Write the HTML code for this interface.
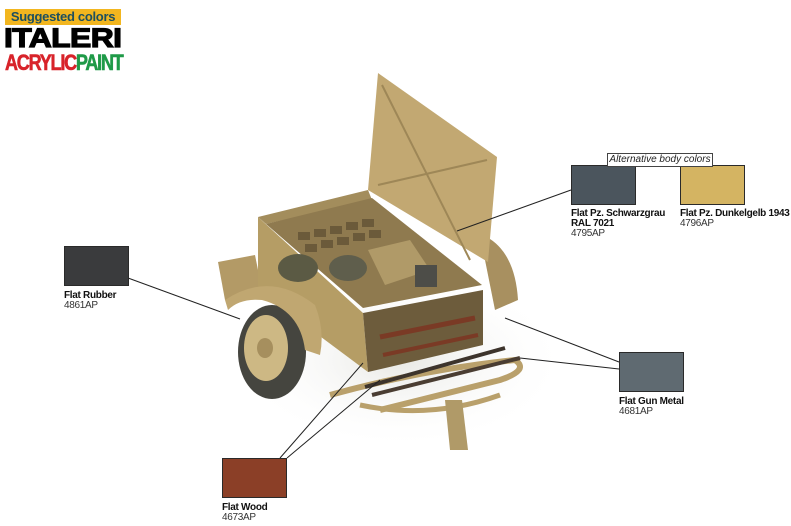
<!DOCTYPE html>
<html><head><meta charset="utf-8"><style>
body{margin:0;width:791px;height:526px;background:#fff;position:relative;overflow:hidden;font-family:"Liberation Sans",sans-serif}
.sw{position:absolute;border:1px solid #2a2a2a;box-sizing:border-box}
.lb{position:absolute;font-size:10px;line-height:10px;color:#111;white-space:nowrap;letter-spacing:-0.3px}
.lb b{font-weight:bold}
.lb span{color:#333}
</style></head><body>
<svg width="791" height="526" style="position:absolute;left:0;top:0">
<defs>
<radialGradient id="sh" cx="0.5" cy="0.5" r="0.5"><stop offset="0" stop-color="#e8e8e4"/><stop offset="1" stop-color="#fff" stop-opacity="0"/></radialGradient>
</defs>
<ellipse cx="400" cy="360" rx="170" ry="90" fill="url(#sh)"/>
<path d="M483 235 Q515 250 518 300 L495 310 L485 260Z" fill="#a89060"/>
<path d="M218 262 L255 255 L262 290 L225 300Z" fill="#b39a66"/>
<polygon points="258,217 363,313 368,372 258,290" fill="#b59d65"/>
<polygon points="258,217 368,190 372,200 266,224" fill="#a38d5c"/>
<polygon points="266,224 372,198 482,285 363,308" fill="#8f7a4f"/>
<g fill="#6b5a3a">
<rect x="298" y="232" width="12" height="8"/><rect x="314" y="229" width="12" height="8"/><rect x="330" y="226" width="12" height="8"/><rect x="346" y="222" width="12" height="8"/><rect x="362" y="219" width="12" height="8"/>
<rect x="305" y="244" width="12" height="8"/><rect x="321" y="240" width="12" height="8"/><rect x="337" y="237" width="12" height="8"/><rect x="353" y="233" width="12" height="8"/><rect x="369" y="230" width="12" height="8"/>
</g>
<polygon points="368,250 410,240 430,270 385,285" fill="#b09a68"/>
<ellipse cx="298" cy="268" rx="20" ry="14" fill="#5b5a44"/>
<ellipse cx="348" cy="268" rx="19" ry="13" fill="#5f5e4c"/>
<rect x="415" y="265" width="22" height="22" fill="#4d4d48"/>
<polygon points="378,73 497,157 488,262 368,190" fill="#c2a872"/>
<line x1="382" y1="85" x2="470" y2="260" stroke="#9e8757" stroke-width="2"/>
<line x1="378" y1="185" x2="487" y2="160" stroke="#9e8757" stroke-width="2"/>
<polygon points="363,313 483,290 483,345 368,372" fill="#6d5c3c"/>
<line x1="380" y1="337" x2="475" y2="318" stroke="#7a3a25" stroke-width="5"/>
<line x1="383" y1="355" x2="478" y2="335" stroke="#7a3a25" stroke-width="4"/>
<path d="M330 395 Q420 370 515 360 Q530 370 500 380 Q440 395 380 410" fill="none" stroke="#b9a06b" stroke-width="6"/>
<path d="M360 405 Q430 420 500 395" fill="none" stroke="#b9a06b" stroke-width="5"/>
<path d="M445 400 L450 450 L468 450 L462 400" fill="#b09a68"/>
<line x1="365" y1="387" x2="505" y2="348" stroke="#3d342c" stroke-width="4"/>
<line x1="372" y1="395" x2="520" y2="358" stroke="#4a3d32" stroke-width="4"/>
<ellipse cx="272" cy="352" rx="34" ry="47" fill="#45453f"/>
<ellipse cx="266" cy="348" rx="22" ry="33" fill="#cdb884"/>
<ellipse cx="265" cy="348" rx="8" ry="10" fill="#a68f5e"/>
<path d="M225 300 Q270 270 315 305 Q325 330 320 355 L305 350 Q300 310 262 300 Q240 298 228 310Z" fill="#c0a771"/>
<g stroke="#222" stroke-width="1" fill="none">
<line x1="128" y1="278" x2="240" y2="319"/>
<line x1="571" y1="190" x2="457" y2="231"/>
<line x1="619" y1="362" x2="505" y2="318"/>
<line x1="619" y1="369" x2="520" y2="358"/>
<line x1="280" y1="458" x2="363" y2="363"/>
<line x1="287" y1="458" x2="380" y2="380"/>
</g>
</svg>
<div style="position:absolute;left:5px;top:9px;width:116px;height:16px;background:#f2b61f;color:#1d4f5f;font-weight:bold;font-size:13px;line-height:16px;text-align:center;letter-spacing:-0.3px">Suggested colors</div>
<div style="position:absolute;left:4px;top:26px;font-weight:bold;font-size:27px;line-height:25px;color:#000;transform:scaleX(1.18);transform-origin:left;letter-spacing:-0.5px;-webkit-text-stroke:1.2px #000">ITALERI</div>
<div style="position:absolute;left:5px;top:52px;font-weight:bold;font-size:22px;line-height:21px;letter-spacing:-1.5px;transform:scaleX(0.82);transform-origin:left;-webkit-text-stroke:0.6px"><span style="color:#d8232a">ACRYLIC</span><span style="color:#1f9a48">PAINT</span></div>
<div class="sw" style="left:64px;top:246px;width:65px;height:40px;background:#3a3b3d"></div>
<div class="lb" style="left:64px;top:291px"><b>Flat Rubber</b><br><span>4861AP</span></div>
<div style="position:absolute;left:607px;top:153px;width:106px;height:14px;border:1px solid #444;box-sizing:border-box;background:#fff;font-style:italic;font-size:10px;line-height:12px;text-align:center;color:#222;z-index:2">Alternative body colors</div>
<div class="sw" style="left:571px;top:165px;width:65px;height:40px;background:#4b555d"></div>
<div class="lb" style="left:571px;top:209px"><b>Flat Pz. Schwarzgrau</b><br><b>RAL 7021</b><br><span>4795AP</span></div>
<div class="sw" style="left:680px;top:165px;width:65px;height:40px;background:#d4b462"></div>
<div class="lb" style="left:680px;top:209px"><b>Flat Pz. Dunkelgelb 1943</b><br><span>4796AP</span></div>
<div class="sw" style="left:619px;top:352px;width:65px;height:40px;background:#5f6a71"></div>
<div class="lb" style="left:619px;top:397px"><b>Flat Gun Metal</b><br><span>4681AP</span></div>
<div class="sw" style="left:222px;top:458px;width:65px;height:40px;background:#8b3f27"></div>
<div class="lb" style="left:222px;top:503px"><b>Flat Wood</b><br><span>4673AP</span></div>
</body></html>
